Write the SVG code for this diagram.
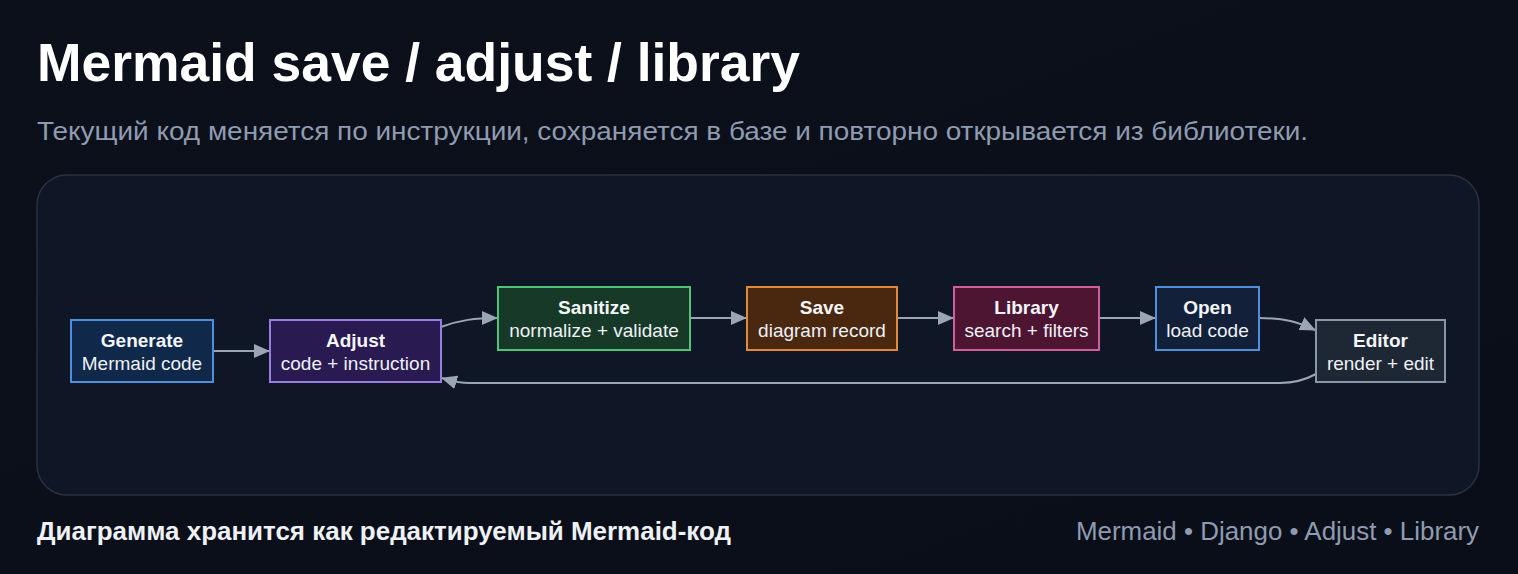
<svg xmlns="http://www.w3.org/2000/svg" width="1518" height="574" viewBox="0 0 1518 574">
<defs>
<marker id="arr" viewBox="0 0 16 14" refX="15" refY="7" markerWidth="16" markerHeight="14" markerUnits="userSpaceOnUse" orient="auto">
<path d="M0,0 L16,7 L0,14 Z" fill="#9aa5b5"/>
</marker>
<linearGradient id="bg" x1="0" y1="0" x2="1" y2="1">
<stop offset="0" stop-color="#0b101b"/>
<stop offset="1" stop-color="#0a0e18"/>
</linearGradient>
</defs>
<style>
text{font-family:"Liberation Sans",Arial,sans-serif}
.t1{font-size:19px;font-weight:bold;fill:#f4f6fa;text-anchor:middle}
.t2{font-size:19px;fill:#eef1f6;text-anchor:middle}
.box{stroke-width:2}
.edge{fill:none;stroke:#9aa5b5;stroke-width:2;marker-end:url(#arr)}
</style>
<rect width="1518" height="574" fill="url(#bg)"/>
<text x="37" y="81" font-size="53" font-weight="bold" fill="#ffffff" textLength="763" lengthAdjust="spacingAndGlyphs">Mermaid save / adjust / library</text>
<text x="37" y="140" font-size="25" fill="#8f9bb0" textLength="1271" lengthAdjust="spacingAndGlyphs">Текущий код меняется по инструкции, сохраняется в базе и повторно открывается из библиотеки.</text>
<rect x="37" y="175" width="1442" height="320" rx="30" fill="#0f1625" stroke="#2a3242" stroke-width="1.5"/>
<g id="connectors">
<path class="edge" d="M213,351 L269,351"/>
<path class="edge" d="M441,327 C460,320 475,318 497,318"/>
<path class="edge" d="M690,318 L746,318"/>
<path class="edge" d="M897,318 L953,318"/>
<path class="edge" d="M1099,318 L1155,318"/>
<path class="edge" d="M1259,318 C1285,318 1298,322 1315,330"/>
<path class="edge" d="M1316,374 C1305,380 1295,383 1280,383 L470,383 C458,383 452,381 442,378"/>
</g>
<g id="generate">
<rect class="box" x="71" y="320" width="142" height="62" fill="#10284a" stroke="#4f8fdb"/>
<text class="t1" x="142" y="347">Generate</text>
<text class="t2" x="142" y="370">Mermaid code</text>
</g>
<g id="adjust">
<rect class="box" x="270" y="320" width="171" height="62" fill="#2a1a52" stroke="#9a7de0"/>
<text class="t1" x="355.5" y="347">Adjust</text>
<text class="t2" x="355.5" y="370">code + instruction</text>
</g>
<g id="sanitize">
<rect class="box" x="498" y="287" width="192" height="63" fill="#173a28" stroke="#4fc47a"/>
<text class="t1" x="594" y="314">Sanitize</text>
<text class="t2" x="594" y="337">normalize + validate</text>
</g>
<g id="save">
<rect class="box" x="747" y="287" width="150" height="63" fill="#4a2810" stroke="#e08a3a"/>
<text class="t1" x="822" y="314">Save</text>
<text class="t2" x="822" y="337">diagram record</text>
</g>
<g id="library">
<rect class="box" x="954" y="287" width="145" height="63" fill="#4e1532" stroke="#d0609a"/>
<text class="t1" x="1026.5" y="314">Library</text>
<text class="t2" x="1026.5" y="337">search + filters</text>
</g>
<g id="open">
<rect class="box" x="1156" y="287" width="103" height="63" fill="#13203a" stroke="#4f8fdb"/>
<text class="t1" x="1207.5" y="314">Open</text>
<text class="t2" x="1207.5" y="337">load code</text>
</g>
<g id="editor">
<rect class="box" x="1316" y="320" width="129" height="62" fill="#1e2734" stroke="#8a96a6"/>
<text class="t1" x="1380.5" y="347">Editor</text>
<text class="t2" x="1380.5" y="370">render + edit</text>
</g>
<text x="37" y="540" font-size="25" font-weight="bold" fill="#eef1f6" textLength="694" lengthAdjust="spacingAndGlyphs">Диаграмма хранится как редактируемый Mermaid-код</text>
<text x="1076" y="540" font-size="25" fill="#8f9bb0" textLength="403" lengthAdjust="spacingAndGlyphs">Mermaid • Django • Adjust • Library</text>
</svg>
